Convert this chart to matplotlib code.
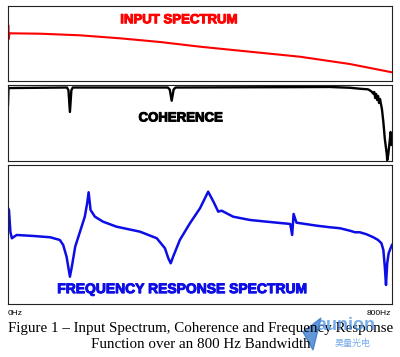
import matplotlib
matplotlib.use("Agg")
import matplotlib.pyplot as plt
import matplotlib.patheffects as pe
from matplotlib.patches import Polygon

# input spectrum (Hz, level)
inp_freq = [0, 0.5, 1.5, 3, 67, 150, 233, 317, 400, 504, 608, 712, 800]
inp_level = [48, 56, 42, 47.7, 47.3, 45.7, 42.7, 39, 34.3, 29.3, 24.3, 17, 8.7]

# coherence (Hz, 0..1)
coh_freq = [0, 1, 123, 126, 129, 132, 135, 333, 337, 341, 345, 349, 600, 670,
            712, 733, 750, 757, 761, 763, 765, 767, 769, 771, 773, 775, 777,
            779, 782, 785, 789, 790, 792, 795, 797, 799, 800]
coh_val = [0.737, 0.96, 0.967, 0.93, 0.645, 0.93, 0.967, 0.967, 0.94, 0.793,
           0.94, 0.967, 0.972, 0.974, 0.964, 0.951, 0.943, 0.917, 0.886, 0.908,
           0.829, 0.882, 0.803, 0.855, 0.763, 0.816, 0.75, 0.684, 0.513, 0.293,
           0.096, 0.01, 0.075, 0.25, 0.382, 0.21, 0.342]

# frequency response (Hz, level)
frf_freq = [0, 2, 5, 8, 18, 53, 88, 108, 115, 122, 129, 133, 140, 150, 160,
            165, 168, 172, 181, 198, 226, 275, 310, 327, 334, 339, 344, 358,
            379, 400, 417, 428, 438, 445, 469, 504, 539, 588, 592, 595, 601,
            643, 671, 692, 712, 723, 733, 747, 761, 771, 778, 782, 785, 787.5,
            790, 793, 797, 800]
frf_level = [96, 94, 72, 65.7, 69, 68, 66.7, 64, 59, 47.3, 27.3, 37.3, 57.3,
             72.3, 87.3, 101, 111.7, 94, 87.3, 82.3, 77.3, 72.3, 65.7, 55.7,
             45.7, 40.7, 47.3, 64, 80.7, 95.7, 112.3, 102.3, 92.3, 93.3, 87.3,
             84, 82.3, 80, 69, 90, 81.3, 78.3, 76.7, 75.7, 73.3, 71.7, 71.7,
             69.7, 66.7, 64, 60.7, 54, 37.3, 19, 40.7, 50.7, 55.7, 59]

fig = plt.figure(figsize=(4.0, 3.57), dpi=100)

def panel(rect, ylim):
    ax = fig.add_axes(rect)
    ax.set_xlim(0, 800)
    ax.set_ylim(*ylim)
    ax.set_xticks([])
    ax.set_yticks([])
    for s in ax.spines.values():
        s.set_linewidth(0.8)
        s.set_color('#222222')
    return ax

def heavy(color):
    return [pe.withStroke(linewidth=0.7, foreground=color)]

ax1 = panel([0.02, 0.7731, 0.96, 0.2101], (0, 75))
ax1.plot(inp_freq, inp_level, color='#ff0000', lw=1.5)
ax1.text(0.445, 0.81, 'INPUT SPECTRUM', transform=ax1.transAxes, ha='center',
         va='center', color='#ff0000', fontsize=9.5, fontweight='bold',
         family='Liberation Sans', path_effects=heavy('#ff0000'))

ax2 = panel([0.02, 0.549, 0.96, 0.2129], (0, 1))
ax2.plot(coh_freq, coh_val, color='black', lw=1.7)
ax2.text(0.45, 0.56, 'COHERENCE', transform=ax2.transAxes, ha='center',
         va='center', color='black', fontsize=9.5, fontweight='bold',
         family='Liberation Sans', path_effects=heavy('black'))

ax3 = panel([0.02, 0.1485, 0.96, 0.3894], (0, 139))
ax3.plot(frf_freq, frf_level, color='#0d0de6', lw=1.8)
ax3.text(0.453, 0.107, 'FREQUENCY RESPONSE SPECTRUM', transform=ax3.transAxes,
         ha='center', va='center', color='#0d0de6', fontsize=10,
         fontweight='bold', family='Liberation Sans',
         path_effects=heavy('#0d0de6'))

fig.text(0.02, 1 - 313.5 / 357, '0Hz', fontsize=6, ha='left', va='center',
         family='Liberation Sans')
fig.text(0.978, 1 - 313.5 / 357, '800Hz', fontsize=6, ha='right', va='center',
         family='Liberation Sans')

fig.text(0.5025, 1 - 328.5 / 357,
         'Figure 1 \u2013 Input Spectrum, Coherence and Frequency Response',
         fontsize=10.8, ha='center', va='center', family='Liberation Serif')
fig.text(0.502, 1 - 345 / 357, 'Function over an 800 Hz Bandwidth',
         fontsize=10.8, ha='center', va='center', family='Liberation Serif')

# watermark
fig.patches.append(Polygon([[303 / 400, 1 - 332 / 357], [321 / 400, 1 - 318 / 357],
                            [313 / 400, 1 - 350 / 357]], closed=True,
                           transform=fig.transFigure, color='#2f74c8', alpha=0.75))
fig.text(346 / 400, 1 - 326 / 357, 'aunion', fontsize=13, fontweight='bold',
         ha='center', va='center', color='#4a90e2', alpha=0.75,
         family='Liberation Sans')
fig.text(353 / 400, 1 - 343 / 357, '昊量光电', fontsize=6.5, ha='center',
         va='center', color='#4a90e2', alpha=0.75,
         family=['Noto Sans CJK SC', 'DejaVu Sans'])

fig.savefig('out.png', dpi=100)
